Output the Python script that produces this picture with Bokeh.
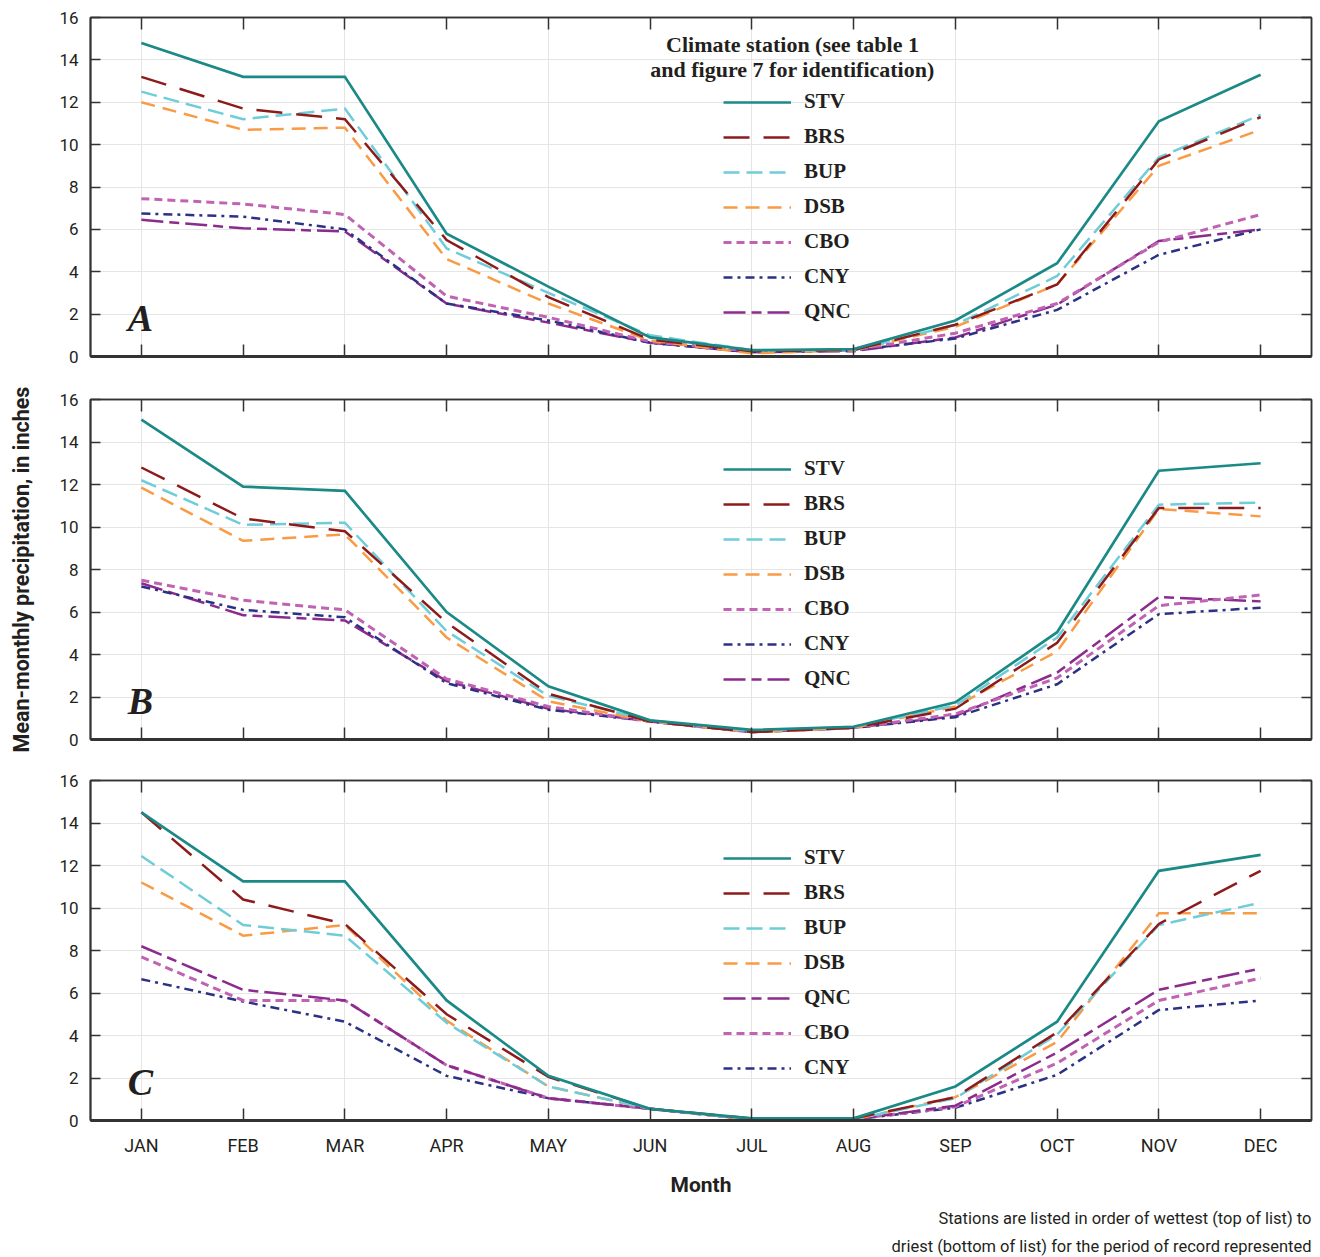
from bokeh.plotting import figure
from bokeh.models import (Range1d, FixedTicker, LinearAxis, Legend, LegendItem, Label, Title)
from bokeh.layouts import column
from bokeh.embed import file_html
from bokeh.resources import INLINE

months = ["JAN", "FEB", "MAR", "APR", "MAY", "JUN", "JUL", "AUG", "SEP", "OCT", "NOV", "DEC"]
y_ticks = [0, 2, 4, 6, 8, 10, 12, 14, 16]

# Panel A
a_stv = [14.8, 13.2, 13.2, 5.8, 3.3, 0.9, 0.3, 0.35, 1.7, 4.4, 11.1, 13.3]
a_brs = [13.2, 11.7, 11.2, 5.5, 2.8, 0.8, 0.25, 0.3, 1.5, 3.4, 9.3, 11.3]
a_bup = [12.5, 11.2, 11.7, 5.1, 3.0, 1.0, 0.3, 0.3, 1.5, 3.8, 9.4, 11.4]
a_dsb = [12.0, 10.7, 10.8, 4.6, 2.5, 0.75, 0.15, 0.3, 1.4, 3.4, 9.0, 10.7]
a_cbo = [7.45, 7.2, 6.7, 2.85, 1.85, 0.7, 0.25, 0.3, 1.1, 2.5, 5.4, 6.7]
a_cny = [6.75, 6.6, 6.0, 2.5, 1.7, 0.65, 0.2, 0.3, 0.85, 2.2, 4.8, 6.0]
a_qnc = [6.45, 6.05, 5.9, 2.5, 1.6, 0.65, 0.2, 0.25, 0.9, 2.45, 5.45, 6.0]
a_order = ["STV", "BRS", "BUP", "DSB", "CBO", "CNY", "QNC"]

# Panel B
b_stv = [15.05, 11.9, 11.7, 6.0, 2.5, 0.9, 0.45, 0.6, 1.75, 5.05, 12.65, 13.0]
b_brs = [12.8, 10.4, 9.8, 5.5, 2.15, 0.85, 0.35, 0.55, 1.45, 4.55, 10.9, 10.9]
b_bup = [12.2, 10.1, 10.2, 5.1, 2.05, 0.9, 0.4, 0.6, 1.6, 4.8, 11.05, 11.15]
b_dsb = [11.85, 9.35, 9.65, 4.8, 1.8, 0.85, 0.35, 0.55, 1.55, 4.15, 10.85, 10.5]
b_cbo = [7.5, 6.55, 6.1, 2.85, 1.55, 0.85, 0.35, 0.55, 1.2, 2.9, 6.3, 6.8]
b_cny = [7.2, 6.1, 5.75, 2.65, 1.4, 0.85, 0.35, 0.55, 1.05, 2.6, 5.9, 6.2]
b_qnc = [7.35, 5.85, 5.6, 2.75, 1.45, 0.85, 0.35, 0.55, 1.1, 3.15, 6.7, 6.5]
b_order = ["STV", "BRS", "BUP", "DSB", "CBO", "CNY", "QNC"]

# Panel C
c_stv = [14.5, 11.25, 11.25, 5.65, 2.1, 0.55, 0.1, 0.1, 1.6, 4.65, 11.75, 12.5]
c_brs = [14.5, 10.4, 9.25, 5.0, 2.05, 0.55, 0.1, 0.1, 1.1, 4.15, 9.25, 11.75]
c_bup = [12.45, 9.2, 8.7, 4.6, 1.6, 0.55, 0.05, 0.05, 1.05, 4.05, 9.2, 10.25]
c_dsb = [11.2, 8.7, 9.2, 4.7, 1.6, 0.55, 0.05, 0.05, 1.1, 3.7, 9.75, 9.75]
c_qnc = [8.2, 6.15, 5.65, 2.6, 1.05, 0.55, 0.05, 0.05, 0.7, 3.2, 6.15, 7.15]
c_cbo = [7.7, 5.65, 5.65, 2.6, 1.05, 0.55, 0.05, 0.05, 0.65, 2.7, 5.65, 6.7]
c_cny = [6.65, 5.6, 4.65, 2.1, 1.05, 0.55, 0.05, 0.05, 0.6, 2.15, 5.2, 5.65]
c_order = ["STV", "BRS", "BUP", "DSB", "QNC", "CBO", "CNY"]

note_lines = ["Stations are listed in order of wettest (top of list) to",
              "driest (bottom of list) for the period of record represented"]

styles = {
    "STV": dict(color="#1B8A87", dash="solid", width=2.7),
    "BRS": dict(color="#8E1B1B", dash="26 14", width=2.5),
    "BUP": dict(color="#6ECDD8", dash="16 7", width=2.5),
    "DSB": dict(color="#F99B45", dash="14 8", width=2.5),
    "CBO": dict(color="#C063B2", dash="8 5", width=3.0),
    "CNY": dict(color="#2B3183", dash="9 5 3 5", width=2.5),
    "QNC": dict(color="#8A2B8D", dash="22 6 10 6", width=2.5),
}

SANS = "Roboto"
SERIF = "Liberation Serif"
INK = "#231F20"
x_idx = list(range(len(months)))


def make_panel(data, order, letter, height, top, bottom, legend_y,
               show_x_labels=False, y_label=None):
    p = figure(width=1314, height=height, x_range=Range1d(-0.5, 11.5),
               y_range=Range1d(0, 16), output_backend="svg",
               toolbar_location=None, x_axis_location=None,
               y_axis_location=None, min_border_left=90,
               min_border_right=3, min_border_top=top,
               min_border_bottom=bottom)
    p.outline_line_color = "#333333"
    p.outline_line_width = 1.5
    p.background_fill_color = "white"

    xt = FixedTicker(ticks=x_idx)
    yt = FixedTicker(ticks=y_ticks)

    def style(ax, in_len):
        ax.major_tick_in = in_len
        ax.major_tick_out = 0
        ax.minor_tick_line_color = None
        ax.major_tick_line_color = "#333333"
        ax.major_tick_line_width = 1.5
        ax.axis_line_color = "#333333"

    def hide_labels(ax):
        ax.major_label_text_color = None
        ax.major_label_text_font_size = "0px"
        ax.major_label_standoff = 0

    bottom_ax = LinearAxis(ticker=xt)
    style(bottom_ax, 12)
    bottom_ax.axis_line_width = 3
    if show_x_labels:
        bottom_ax.major_label_overrides = {i: m for i, m in enumerate(months)}
        bottom_ax.major_label_text_font = SANS
        bottom_ax.major_label_text_font_size = "18px"
        bottom_ax.major_label_text_color = INK
        bottom_ax.major_label_standoff = 14
        bottom_ax.axis_label = "Month"
        bottom_ax.axis_label_text_font = SANS
        bottom_ax.axis_label_text_font_style = "bold"
        bottom_ax.axis_label_text_font_size = "21px"
        bottom_ax.axis_label_text_color = INK
        bottom_ax.axis_label_standoff = 14
    else:
        hide_labels(bottom_ax)
    p.add_layout(bottom_ax, "below")

    top_ax = LinearAxis(ticker=xt)
    style(top_ax, 12)
    top_ax.axis_line_width = 1.5
    hide_labels(top_ax)
    p.add_layout(top_ax, "above")

    left_ax = LinearAxis(ticker=yt)
    style(left_ax, 10)
    left_ax.axis_line_width = 2
    left_ax.major_label_text_font = SANS
    left_ax.major_label_text_font_size = "17px"
    left_ax.major_label_text_color = INK
    left_ax.major_label_standoff = 12
    if y_label:
        left_ax.axis_label = y_label
        left_ax.axis_label_text_font = SANS
        left_ax.axis_label_text_font_style = "bold"
        left_ax.axis_label_text_font_size = "21.5px"
        left_ax.axis_label_text_color = INK
        left_ax.axis_label_standoff = 22
    p.add_layout(left_ax, "left")

    right_ax = LinearAxis(ticker=yt)
    style(right_ax, 10)
    right_ax.axis_line_width = 1.5
    hide_labels(right_ax)
    p.add_layout(right_ax, "right")

    renderers = {}
    for name in reversed(order):
        st = styles[name]
        renderers[name] = p.line(x_idx, data[name], line_color=st["color"],
                                 line_width=st["width"], line_dash=st["dash"],
                                 line_join="miter")

    legend = Legend(items=[LegendItem(label=n, renderers=[renderers[n]]) for n in order],
                    location=(633, legend_y), glyph_width=68, glyph_height=20,
                    label_height=20, spacing=10, padding=0, margin=0,
                    label_standoff=13, label_text_font=SERIF,
                    label_text_font_style="bold", label_text_font_size="21px",
                    label_text_color=INK, border_line_alpha=0,
                    background_fill_alpha=0)
    p.add_layout(legend)

    p.add_layout(Label(x=50, y=39, x_units="screen", y_units="screen", text=letter,
                       text_font=SERIF, text_font_style="bold italic",
                       text_font_size="38px", text_color=INK,
                       text_align="center", text_baseline="middle"))
    return p


pA = make_panel(dict(STV=a_stv, BRS=a_brs, BUP=a_bup, DSB=a_dsb, CBO=a_cbo, CNY=a_cny, QNC=a_qnc),
                a_order, "A", 378, 17, 22, 32)
pA.add_layout(Label(x=702, y=312, x_units="screen", y_units="screen",
                    text="Climate station (see table 1", text_font=SERIF,
                    text_font_style="bold", text_font_size="22px", text_color=INK,
                    text_align="center", text_baseline="middle"))
pA.add_layout(Label(x=702, y=287, x_units="screen", y_units="screen",
                    text="and figure 7 for identification)", text_font=SERIF,
                    text_font_style="bold", text_font_size="22px", text_color=INK,
                    text_align="center", text_baseline="middle"))

pB = make_panel(dict(STV=b_stv, BRS=b_brs, BUP=b_bup, DSB=b_dsb, CBO=b_cbo, CNY=b_cny, QNC=b_qnc),
                b_order, "B", 381, 21, 20, 48,
                y_label="Mean-monthly precipitation, in inches")

pC = make_panel(dict(STV=c_stv, BRS=c_brs, BUP=c_bup, DSB=c_dsb, CBO=c_cbo, CNY=c_cny, QNC=c_qnc),
                c_order, "C", 498, 21, 137, 40, show_x_labels=True)
pC.add_layout(Title(text=note_lines[0],
                    align="right", text_font=SANS, text_font_style="normal",
                    text_font_size="16.5px", text_color=INK, standoff=14), "below")
pC.add_layout(Title(text=note_lines[1],
                    align="right", text_font=SANS, text_font_style="normal",
                    text_font_size="16.5px", text_color=INK, standoff=0), "below")

layout = column(pA, pB, pC, spacing=0)
open("out.html", "w").write(file_html(layout, INLINE))
